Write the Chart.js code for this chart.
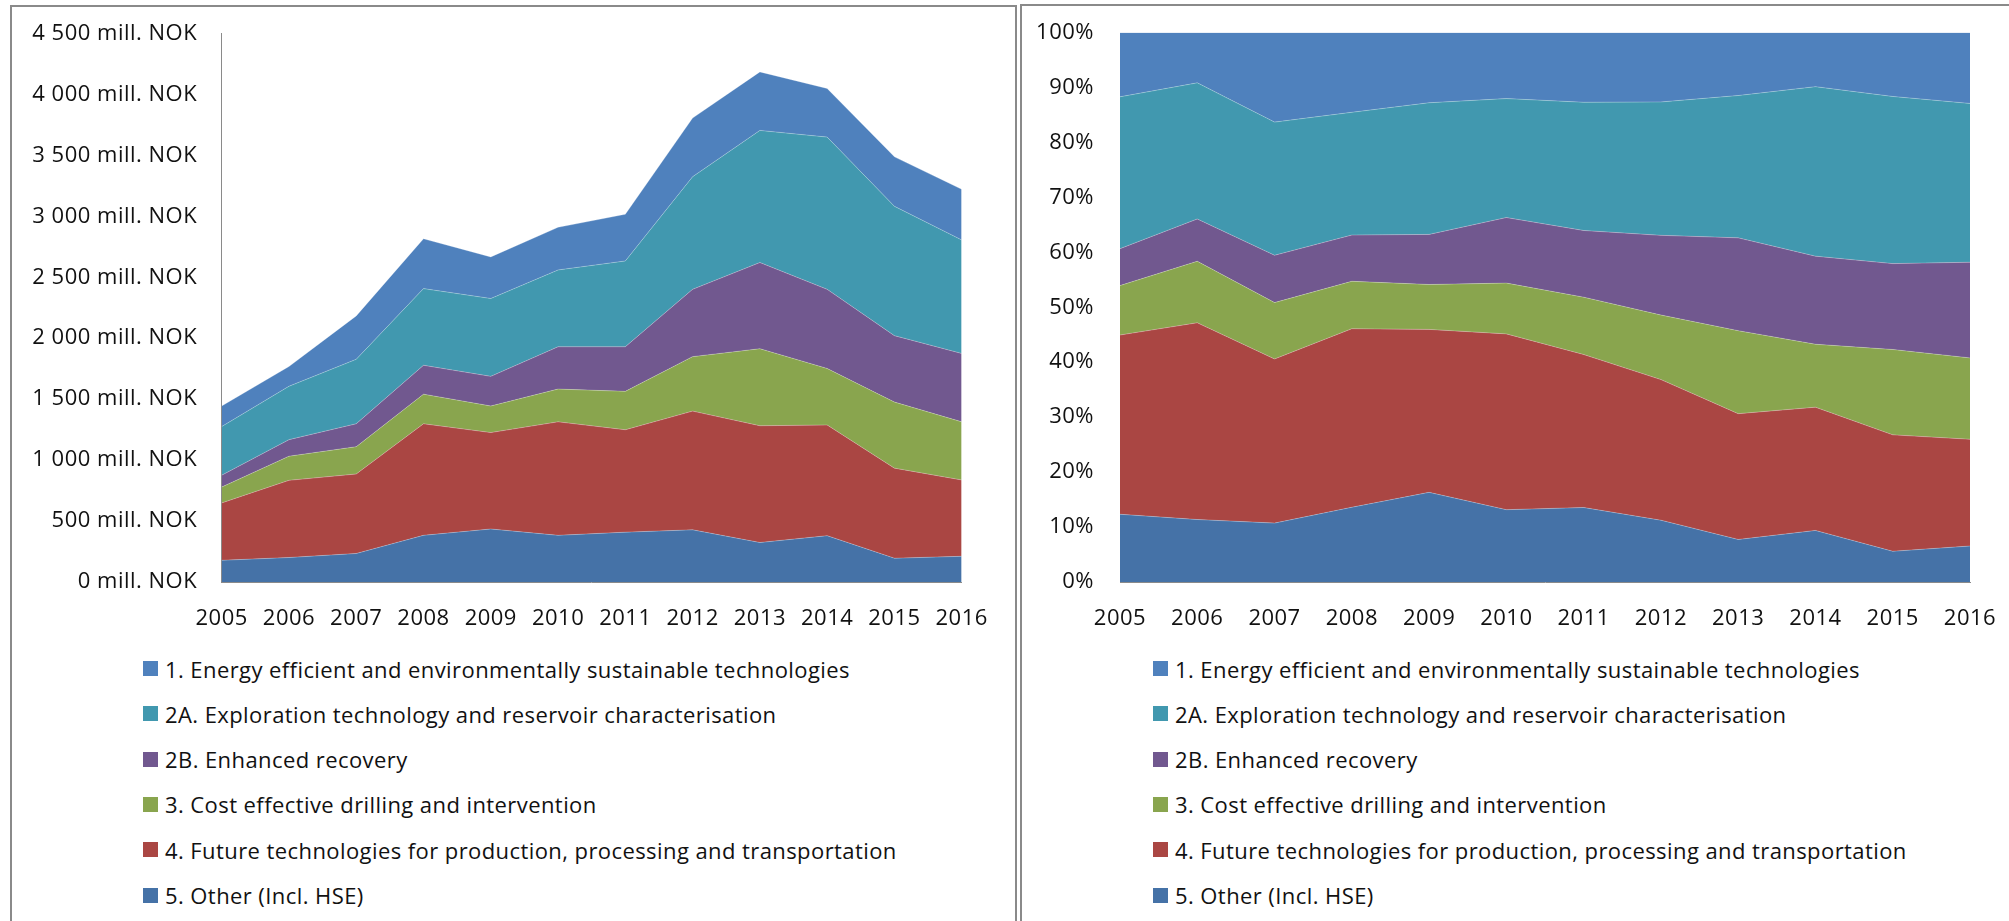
<!DOCTYPE html>
<html>
<head>
<meta charset="utf-8">
<script src="https://cdn.jsdelivr.net/npm/chart.js@4.4.1/dist/chart.umd.min.js"></script>
<style>
html,body{margin:0;padding:0;background:#fff;width:2009px;height:921px;overflow:hidden;font-family:'Open Sans',sans-serif;}
.panel{position:absolute;border:2px solid #8a8a8a;box-sizing:border-box;}
#p1{left:10px;top:5px;width:1007px;height:1000px;}
#p2{left:1020px;top:4px;width:1100px;height:1000px;}
canvas{position:absolute;}
.item{position:absolute;display:flex;align-items:center;height:30px;font-size:22px;color:#111;white-space:nowrap;letter-spacing:0.42px;}
.sw{width:15px;height:15px;margin-right:7px;flex:none;}
</style>
</head>
<body>
<div class="panel" id="p1"></div>
<div class="panel" id="p2"></div>
<canvas id="c1" width="1000" height="650" style="left:0;top:0;"></canvas>
<canvas id="c2" width="989" height="650" style="left:1020px;top:0;"></canvas>
<div id="legends"></div>
<script>
// ---- data (mill. NOK) ----
const years = ['2005','2006','2007','2008','2009','2010','2011','2012','2013','2014','2015','2016'];
const labelEnergy = '1. Energy efficient and environmentally sustainable technologies';
const labelExploration = '2A. Exploration technology and reservoir characterisation';
const labelEnhanced = '2B. Enhanced recovery';
const labelDrilling = '3. Cost effective drilling and intervention';
const labelFuture = '4. Future technologies for production, processing and transportation';
const labelOther = '5. Other (Incl. HSE)';

const energy      = [169,162,356,409,341,350,383,481,480,399,406,416];
const exploration = [399,438,529,629,639,630,704,924,1084,1249,1061,931];
const enhanced    = [97,136,188,237,243,347,366,552,707,649,545,561];
const drilling    = [130,198,224,243,218,269,315,447,632,464,542,477];
const future      = [471,633,652,915,791,931,840,974,958,908,739,626];
const other       = [178,201,234,383,435,383,409,428,324,380,195,211];

const leftTickValues = [0,500,1000,1500,2000,2500,3000,3500,4000,4500];
const leftTickLabels = ['0 mill. NOK','500 mill. NOK','1\u00a0000 mill. NOK','1\u00a0500 mill. NOK','2\u00a0000 mill. NOK',
  '2\u00a0500 mill. NOK','3\u00a0000 mill. NOK','3\u00a0500 mill. NOK','4\u00a0000 mill. NOK','4\u00a0500 mill. NOK'];
const rightTickValues = [0,10,20,30,40,50,60,70,80,90,100];
const rightTickLabels = ['0%','10%','20%','30%','40%','50%','60%','70%','80%','90%','100%'];

// ---- styles ----
const FONT = {family:"'Open Sans', sans-serif", size:22};
const TEXT = '#111';
const AXIS = '#8a8a8a';

// stack order bottom -> top
const stack = [
  {label: labelOther, data: other, color: '#4572A7'},
  {label: labelFuture, data: future, color: '#AA4643'},
  {label: labelDrilling, data: drilling, color: '#89A54E'},
  {label: labelEnhanced, data: enhanced, color: '#71588F'},
  {label: labelExploration, data: exploration, color: '#4198AF'},
  {label: labelEnergy, data: energy, color: '#4F81BD'}
];

const totals = years.map((_, i) => stack.reduce((s, d) => s + d.data[i], 0));

function datasets(pct) {
  return stack.map((s, k) => ({
    label: s.label,
    data: pct ? s.data.map((v, i) => v / totals[i] * 100) : s.data,
    backgroundColor: s.color,
    borderColor: 'rgba(255,255,255,0.25)',
    borderWidth: 1,
    pointRadius: 0,
    pointHoverRadius: 0,
    tension: 0,
    fill: k === 0 ? 'origin' : '-1'
  }));
}

const spacingPlugin = {
  id: 'spacing',
  beforeDraw: chart => { if ('letterSpacing' in chart.ctx) chart.ctx.letterSpacing = '0.5px'; }
};

function makeChart(id, pct, cfg) {
  const tickVals = pct ? rightTickValues : leftTickValues;
  const tickLabs = pct ? rightTickLabels : leftTickLabels;
  const W = document.getElementById(id).width;
  return new Chart(document.getElementById(id), {
    type: 'line',
    data: {labels: years, datasets: datasets(pct)},
    plugins: [spacingPlugin],
    options: {
      responsive: false,
      animation: false,
      events: [],
      layout: {autoPadding: false, padding: {left: 0, top: cfg.top, right: W - cfg.right, bottom: 0}},
      plugins: {legend: {display: false}, tooltip: {enabled: false}},
      scales: {
        x: {
          offset: false,
          z: 1,
          grid: {display: false, drawTicks: false},
          border: {display: true, color: AXIS, width: 1},
          ticks: {font: FONT, color: TEXT, padding: 24, maxRotation: 0, autoSkip: false},
          afterFit: s => { s.height = 68; s.paddingLeft = 0; s.paddingRight = 0; }
        },
        y: {
          stacked: true,
          min: 0,
          max: pct ? 100 : 4500,
          grid: {display: false, drawTicks: false},
          border: {display: !pct, color: AXIS, width: 1},
          afterBuildTicks: s => { s.ticks = tickVals.map(v => ({value: v})); },
          ticks: {
            font: FONT, color: TEXT, padding: cfg.lpad,
            callback: v => tickLabs[tickVals.indexOf(v)]
          },
          afterFit: s => { s.width = cfg.yw; s.paddingTop = 0; s.paddingBottom = 0; }
        }
      }
    }
  });
}

makeChart('c1', false, {top: 33.5, right: 961.7, yw: 221.7, lpad: 24.5});
makeChart('c2', true, {top: 32.5, right: 1970 - 1020, yw: 100, lpad: 26});

// ---- legends (listed top series first) ----
const legendOrder = stack.slice().reverse();
const lg = document.getElementById('legends');
[143, 1153].forEach(x0 => {
  legendOrder.forEach((s, i) => {
    const it = document.createElement('div');
    it.className = 'item';
    it.style.left = x0 + 'px';
    it.style.top = (668.5 + 45.3 * i - 15) + 'px';
    const sw = document.createElement('span');
    sw.className = 'sw';
    sw.style.background = s.color;
    const tx = document.createElement('span');
    tx.textContent = s.label;
    it.appendChild(sw); it.appendChild(tx);
    lg.appendChild(it);
  });
});
</script>
</body>
</html>
